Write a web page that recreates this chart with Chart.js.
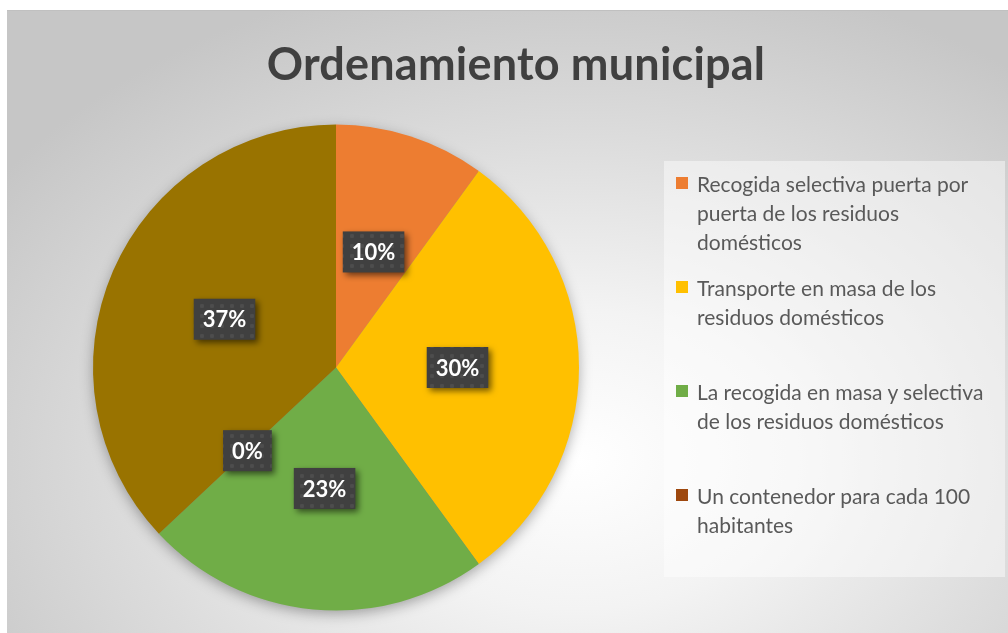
<!DOCTYPE html>
<html>
<head>
<meta charset="utf-8">
<script src="https://cdn.jsdelivr.net/npm/chart.js@4"></script>
<style>
  body { margin: 0; background: #fff; width: 1008px; height: 633px; overflow: hidden; }
  #frame {
    position: absolute; left: 7px; top: 10px; width: 1001px; height: 623px;
    background: radial-gradient(ellipse 70% 80% at 57% 72%, #ffffff 0%, #f3f3f3 30%, #dcdcdc 65%, #c6c6c6 100%);
    border-top: 1px solid #c0c0c0;
  }
  #title {
    position: absolute; left: 0; top: 25px; width: 1018px; text-align: center;
    font: bold 45px Lato, sans-serif; color: #404040; letter-spacing: 0.2px;
  }
  #legend {
    position: absolute; left: 657px; top: 150px; width: 341px; height: 416px;
    background: rgba(255,255,255,0.45); box-sizing: border-box; padding-top: 8px;
  }
  .item { height: 104px; position: relative; padding-left: 33px; }
  .item .txt { font: 21px Lato, sans-serif; color: #595959; line-height: 29px; white-space: nowrap; }
  .item .box { position: absolute; left: 12px; top: 8px; width: 12px; height: 12px; }
  canvas { position: absolute; left: 0; top: 0; }
</style>
</head>
<body>
<div id="frame">
  <canvas id="pie"></canvas>
  <div id="title">Ordenamiento municipal</div>
  <div id="legend"></div>
</div>
<script>
const labels = [
  ['Recogida selectiva puerta por', 'puerta de los residuos', 'domésticos'],
  ['Transporte en masa de los', 'residuos domésticos'],
  ['La recogida en masa y selectiva', 'de los residuos domésticos'],
  ['Un contenedor para cada 100', 'habitantes'],
  ''
];
const values = [10, 30, 23, 0, 37];
const colors = ['#ED7D31', '#FFC000', '#70AD47', '#9E480E', '#997300'];
const legendCount = 4;

// legend (only the first four categories appear in the original)
const legendEl = document.getElementById('legend');
for (let i = 0; i < legendCount; i++) {
  const it = document.createElement('div');
  it.className = 'item';
  it.innerHTML = '<span class="box" style="background:' + colors[i] + '"></span><div class="txt">' +
    labels[i].join('<br>') + '</div>';
  legendEl.appendChild(it);
}

// dotted dark pattern for the value boxes
function makePattern(ctx) {
  const c = document.createElement('canvas');
  c.width = 10; c.height = 10;
  const p = c.getContext('2d');
  p.fillStyle = '#404040';
  p.fillRect(0, 0, 10, 10);
  p.fillStyle = 'rgba(255,255,255,0.07)';
  p.beginPath(); p.arc(5, 5, 2.2, 0, Math.PI * 2); p.fill();
  return ctx.createPattern(c, 'repeat');
}

const pieShadow = {
  id: 'pieShadow',
  beforeDatasetsDraw(chart) {
    const arc = chart.getDatasetMeta(0).data[0];
    if (!arc) return;
    const ctx = chart.ctx;
    ctx.save();
    ctx.shadowColor = 'rgba(0,0,0,0.35)';
    ctx.shadowBlur = 14;
    ctx.shadowOffsetY = 4;
    ctx.fillStyle = '#888';
    ctx.beginPath();
    ctx.arc(arc.x, arc.y, arc.outerRadius - 1, 0, Math.PI * 2);
    ctx.fill();
    ctx.restore();
  }
};

const valueBoxes = {
  id: 'valueBoxes',
  afterDatasetsDraw(chart) {
    const ctx = chart.ctx;
    const total = values.reduce((a, b) => a + b, 0);
    const pattern = makePattern(ctx);
    ctx.save();
    ctx.font = 'bold 22px Lato, sans-serif';
    ctx.textAlign = 'center';
    ctx.textBaseline = 'middle';
    chart.getDatasetMeta(0).data.forEach((arc, i) => {
      const pos = arc.tooltipPosition();
      const txt = Math.round(values[i] / total * 100) + '%';
      const w = ctx.measureText(txt).width + 18;
      const h = 41;
      ctx.save();
      ctx.shadowColor = 'rgba(0,0,0,0.55)';
      ctx.shadowBlur = 6;
      ctx.shadowOffsetX = 3;
      ctx.shadowOffsetY = 3;
      ctx.fillStyle = pattern;
      ctx.fillRect(pos.x - w / 2, pos.y - h / 2, w, h);
      ctx.restore();
      ctx.fillStyle = '#ffffff';
      ctx.fillText(txt, pos.x, pos.y + 1);
    });
    ctx.restore();
  }
};

new Chart(document.getElementById('pie'), {
  type: 'pie',
  data: {
    labels: labels,
    datasets: [{
      data: values,
      backgroundColor: colors,
      borderWidth: 0
    }]
  },
  options: {
    responsive: true,
    maintainAspectRatio: false,
    animation: false,
    layout: { padding: { left: 86, right: 429, top: 112, bottom: 22 } },
    plugins: {
      legend: { display: false },
      tooltip: { enabled: false },
      title: { display: false }
    }
  },
  plugins: [pieShadow, valueBoxes]
});
</script>
</body>
</html>
